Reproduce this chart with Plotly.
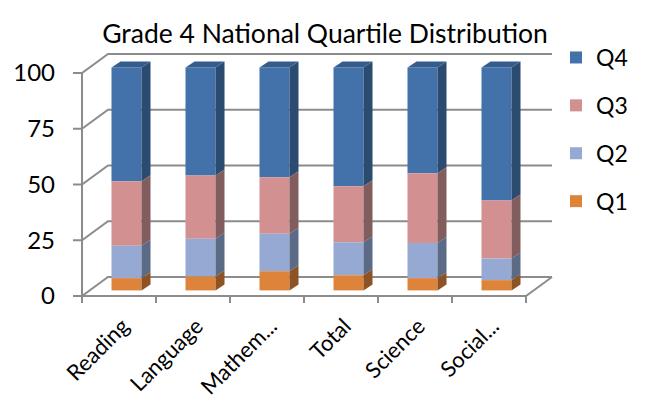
import plotly.graph_objects as go

subjects = ["Reading", "Language", "Mathem...", "Total", "Science", "Social..."]
q1 = [5.5, 6.2, 8.6, 6.8, 5.5, 4.6]
q2 = [14.5, 17.0, 16.8, 14.8, 15.8, 9.7]
q3 = [29.0, 28.3, 25.3, 25.1, 31.2, 26.0]
q4 = [51.0, 48.5, 49.3, 53.3, 47.5, 59.7]
y_ticks = [0, 25, 50, 75, 100]

series = [
    ("Q1", q1, "#DE843A", "#8D5325"),
    ("Q2", q2, "#96A9D2", "#5B6A85"),
    ("Q3", q3, "#D39090", "#825D5D"),
    ("Q4", q4, "#4371A9", "#2B4B71"),
]
top_color = "#345C8E"
grid_color = "#8C8C8C"

# the page body has an 8px margin, so the figure starts at (8, 8) in the window
OFF = 8
W, H = 646 - 2 * OFF, 415 - 2 * OFF

# pixel geometry of the fake 3d box, in window pixels
px_cat, px_unit = 74.0, 2.23
front_x0, front_y0 = 82, 296          # window position of (x=-0.5, y=0)
plot_l, plot_r, plot_t, plot_b = 70, 553, 50, 306
wall_dx, wall_dy = 26 / px_cat, 19 / px_unit      # depth of the back wall
bar_dx0, bar_dy0 = 7.5 / px_cat, 5.6 / px_unit    # bar front face offset
bar_dx1, bar_dy1 = 16.5 / px_cat, 11.6 / px_unit  # bar back face offset
bar_w = 30 / px_cat

x_range = [-0.5 - (front_x0 - plot_l) / px_cat, -0.5 + (plot_r - front_x0) / px_cat]
y_range = [-(plot_b - front_y0) / px_unit, (front_y0 - plot_t) / px_unit]
n = len(subjects)

# stack bottoms for each series
bottoms = {}
acc = [0.0] * n
for name, vals, _, _ in series:
    bottoms[name] = list(acc)
    acc = [acc[i] + vals[i] for i in range(n)]
totals = acc

fig = go.Figure()

# added Q4 first so the legend reads Q4..Q1
for name, vals, col, side_col in reversed(series):
    base = bottoms[name]
    fig.add_trace(go.Bar(
        name=name, legendgroup=name,
        x=[i + bar_dx0 for i in range(n)],
        y=vals,
        base=[b + bar_dy0 for b in base],
        width=bar_w,
        marker=dict(color=col, line=dict(width=0)),
    ))
    sx, sy = [], []
    dx, dy = bar_dx1 - bar_dx0, bar_dy1 - bar_dy0
    for i in range(n):
        xr = i + bar_dx0 + bar_w / 2
        b = base[i] + bar_dy0
        t = base[i] + vals[i] + bar_dy0
        sx += [xr, xr + dx, xr + dx, xr, xr, None]
        sy += [b, b + dy, t + dy, t, b, None]
    fig.add_trace(go.Scatter(x=sx, y=sy, mode="lines", fill="toself", fillcolor=side_col,
                             line=dict(width=0), legendgroup=name, showlegend=False,
                             hoverinfo="skip"))

# top faces
tx, ty = [], []
dx, dy = bar_dx1 - bar_dx0, bar_dy1 - bar_dy0
for i in range(n):
    xl = i + bar_dx0 - bar_w / 2
    xr = i + bar_dx0 + bar_w / 2
    t = totals[i] + bar_dy0
    tx += [xl, xr, xr + dx, xl + dx, xl, None]
    ty += [t, t, t + dy, t + dy, t, None]
fig.add_trace(go.Scatter(x=tx, y=ty, mode="lines", fill="toself", fillcolor=top_color,
                         line=dict(width=0), legendgroup="Q4", showlegend=False,
                         hoverinfo="skip"))

# walls, floor and ticks
line = dict(color=grid_color, width=2)
tick_x = -0.5 - 9 / px_cat
for v in y_ticks:
    fig.add_shape(type="path", layer="below", line=line,
                  path=f"M {tick_x},{v} L -0.5,{v} L {-0.5 + wall_dx},{v + wall_dy} L {n - 0.5 + wall_dx},{v + wall_dy}")
fig.add_shape(type="line", layer="below", line=line, x0=-0.5, y0=0, x1=-0.5, y1=100)
fig.add_shape(type="path", layer="below", line=line,
              path=f"M -0.5,0 L {n - 0.5},0 L {n - 0.5 + wall_dx},{wall_dy}")
for k in range(n + 1):
    fig.add_shape(type="line", layer="below", line=line,
                  x0=k - 0.5, y0=0, x1=k - 0.5, y1=-7 / px_unit)

font = "Lato, Open Sans, sans-serif"
fig.update_layout(
    width=W, height=H,
    margin=dict(l=plot_l - OFF, r=W - (plot_r - OFF), t=plot_t - OFF, b=H - (plot_b - OFF),
                autoexpand=False),
    paper_bgcolor="white", plot_bgcolor="white",
    barmode="overlay",
    font=dict(family=font, size=22, color="black"),
    title=dict(text="Grade 4 National Quartile Distribution", x=(325 - OFF) / W, xref="container",
               y=1 - (34 - OFF) / H, yref="container", xanchor="center", yanchor="middle",
               font=dict(size=26.5, family=font)),
    legend=dict(xref="container", yref="container", x=(556 - OFF) / W, y=1 - (36 - OFF) / H,
                xanchor="left", yanchor="top", traceorder="grouped",
                tracegroupgap=15, font=dict(size=23), bgcolor="rgba(0,0,0,0)"),
    xaxis=dict(range=x_range, showgrid=False, zeroline=False, showline=False,
               tickmode="array", tickvals=[i + 0.05 for i in range(n)], ticktext=subjects,
               tickangle=-45, ticks="", ticklabelstandoff=2, tickfont=dict(size=22)),
    yaxis=dict(range=y_range, showgrid=False, zeroline=False, showline=False,
               tickmode="array", tickvals=y_ticks, ticks="", ticklabelstandoff=14,
               tickfont=dict(size=24)),
    showlegend=True,
)

fig.write_html("out.html")
